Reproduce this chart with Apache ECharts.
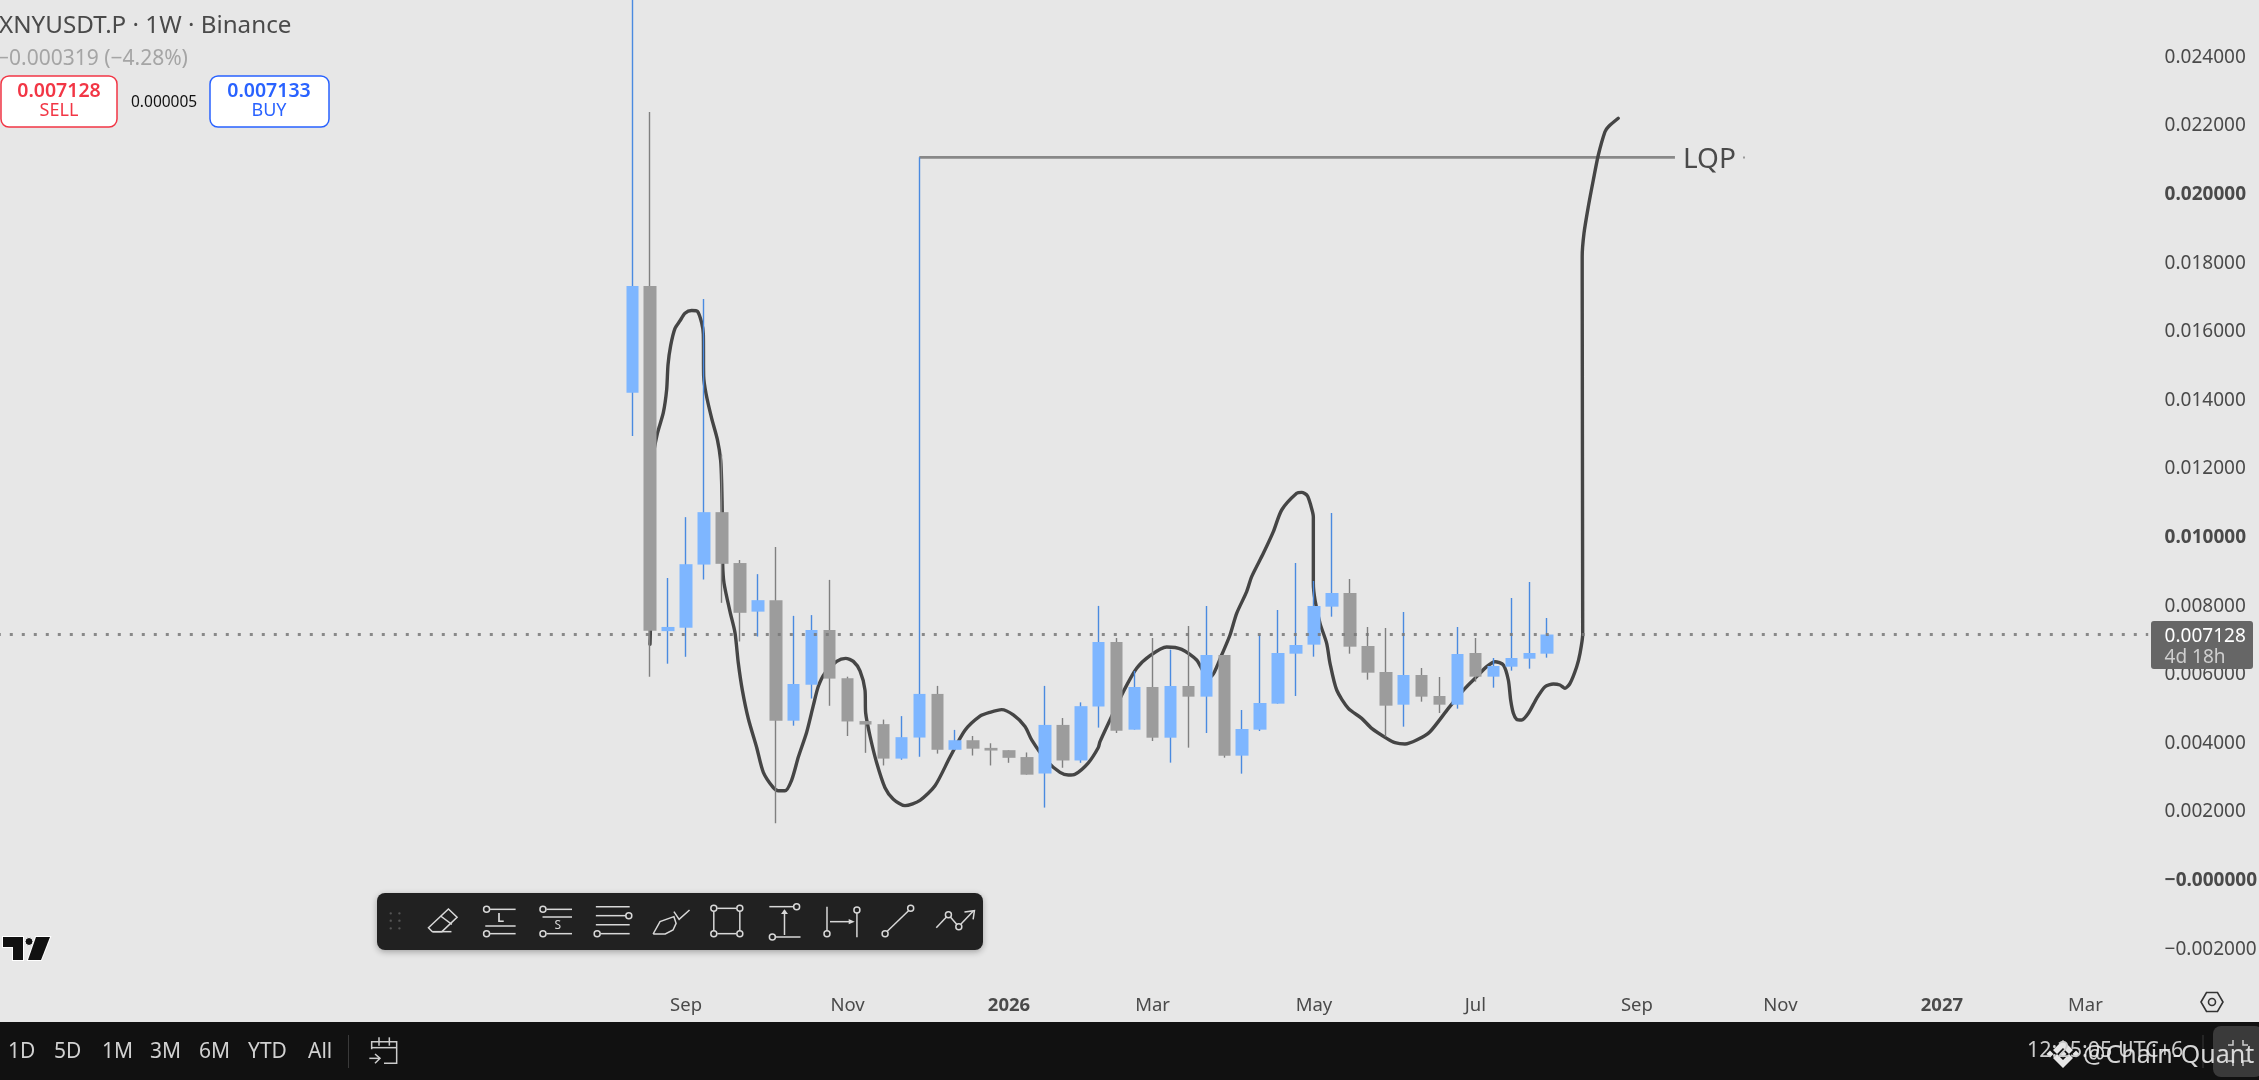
<!DOCTYPE html>
<html>
<head>
<meta charset="utf-8">
<title>XNYUSDT.P 1W</title>
<style>html,body{margin:0;padding:0;background:#e7e7e7;overflow:hidden}#c{width:2259px;height:1080px}</style>
<script src="https://cdn.jsdelivr.net/npm/echarts@6/dist/echarts.min.js"></script>
</head>
<body>
<div id="c"></div>
<script>
// ---- chart values ----
const firstWeek = '2025-08-11';
const opens  = [.014176,.017289,.007226,.007326,.009167,.010695,.009212,.007795,.008129,.004615,.005664,.007259,.005853,.004604,.004515,.003510,.004124,.005396,.003767,.004046,.003823,.003756,.003555,.003075,.004492,.003455,.005028,.006909,.004354,.005597,.004120,.005627,.005316,.006530,.003596,.004354,.005112,.006569,.006832,.007940,.008338,.006793,.006035,.005082,.005947,.005335,.005082,.006589,.005899,.006190,.006423,.006569];
const closes = [.017289,.007237,.007348,.009178,.010695,.009189,.007761,.008129,.004615,.005686,.007259,.005842,.004593,.004503,.003510,.004135,.005396,.003767,.004046,.003800,.003745,.003533,.003042,.004492,.003455,.005039,.006913,.004324,.005597,.004120,.005627,.005316,.006530,.003596,.004373,.005131,.006589,.006822,.007959,.008338,.006773,.006015,.005053,.005947,.005316,.005082,.006560,.005899,.006210,.006443,.006589,.007128];
const lows   = [.012916,.005898,.006277,.006478,.008732,.008051,.006924,.007069,.001625,.004470,.005262,.005050,.004169,.003678,.003310,.003477,.003566,.003655,.003767,.003600,.003310,.003388,.003042,.002082,.003243,.003388,.004414,.004256,.004354,.004023,.003392,.003829,.004256,.003537,.003071,.004315,.005112,.005335,.006482,.007648,.006569,.005811,.004150,.004441,.005170,.004840,.004966,.005753,.005578,.006074,.006132,.006453];
const highs  = [.026000,.022362,.008776,.010550,.016910,.012369,.009301,.008888,.009680,.007672,.007694,.008721,.005898,.004604,.004648,.004749,.021040,.005630,.004347,.004169,.003957,.003756,.003689,.005630,.004693,.005150,.007962,.007026,.006064,.007026,.006686,.007376,.007959,.006530,.004927,.007114,.007842,.009213,.008688,.010670,.008746,.007347,.007318,.007784,.006151,.005889,.007347,.007026,.006443,.008192,.008659,.007609];

// freehand drawing: position in weeks from the first candle, price
const drawWeeks  = [.988,1.007,1.174,1.397,1.731,1.917,1.992,2.14,2.382,2.66,2.939,3.311,3.627,3.868,3.961,3.98,4.11,4.426,4.742,4.927,4.983,5.02,5.039,5.113,5.448,5.726,5.912,6.135,6.47,6.934,7.306,7.863,8.142,8.513,8.885,9.257,9.721,10.093,10.372,10.743,11.394,11.895,12.323,12.694,12.973,13.01,13.252,13.623,14.088,14.552,15.202,16.039,16.875,17.711,18.547,19.383,19.941,20.591,21.241,21.892,22.263,23.1,23.843,24.307,24.679,25.422,25.979,26.072,26.629,27.373,28.116,28.859,29.788,30.624,31.46,32.111,32.39,32.854,33.319,33.69,34.248,34.526,35.177,35.734,36.199,37.035,37.314,37.629,37.815,37.964,37.964,38.057,38.336,38.707,38.893,39.265,39.915,40.658,41.216,42.052,42.516,43.073,43.724,44.467,45.489,46.418,47.069,47.626,48.091,48.555,48.833,48.963,49.113,49.298,49.577,49.949,50.413,50.878,51.342,51.714,51.992,52.271,52.643,52.829,52.978,52.95,52.95,53.05,53.29,53.57,53.85,54.22,54.41,54.96];
const drawPrices = [.006846,.00718,.012313,.012983,.013596,.014266,.014991,.015549,.016051,.016274,.016497,.016575,.016553,.016218,.015883,.014656,.014154,.013429,.012815,.012202,.011532,.010528,.009189,.008631,.007795,.00718,.006288,.005507,.004671,.003834,.003109,.002662,.002573,.002573,.002885,.003555,.00428,.005061,.005619,.006009,.006344,.006433,.006344,.006065,.005507,.004838,.004169,.003387,.002662,.002328,.002138,.002294,.002718,.003555,.004336,.004749,.004861,.004938,.004782,.004448,.004057,.003443,.003109,.003031,.003053,.003387,.003834,.004004,.004635,.005462,.006142,.006511,.006764,.006696,.006385,.00585,.005976,.00653,.007114,.007745,.008377,.008814,.009494,.010126,.010758,.011244,.011273,.011176,.010903,.010563,.00862,.008134,.007454,.006871,.006288,.00551,.004975,.004684,.004392,.004101,.003975,.003936,.004052,.004295,.004975,.005559,.005899,.00619,.006336,.006239,.005801,.005218,.00483,.004655,.004635,.00483,.005267,.005607,.005685,.005656,.005559,.005704,.00619,.006579,.007133,.017464,.018143,.018825,.0196,.020379,.021108,.021787,.021933,.022178];

const lastPrice = 0.007128;
const lqpWeeks = [16, 58.12];
const lqpPrice = 0.02104;
const lqpLabel = 'LQP';

const weeksBefore = 35, weeksTotal = 120;
const monthTicks = [[3,'Sep'],[12,'Nov'],[21,'2026',1],[29,'Mar'],[38,'May'],[47,'Jul'],[56,'Sep'],[64,'Nov'],[73,'2027',1],[81,'Mar']];
const boldPrices = [0, 0.01, 0.02];

// ---- building blocks ----
const FONT = '"Noto Sans"';
const tickByCat = {};
monthTicks.forEach(t => { tickByCat[t[0] + weeksBefore] = t; });
const categories = [];
for (let i = 0; i < weeksTotal; i++) {
  const d = new Date(Date.parse(firstWeek + 'T00:00:00Z') + (i - weeksBefore) * 7 * 864e5);
  categories.push(d.toISOString().slice(0, 10));
}
const wickData = opens.map((o, i) => [i + weeksBefore, o, closes[i], lows[i], highs[i]]);
const bodyData = opens.map((o, i) => [i + weeksBefore, o, closes[i], Math.min(o, closes[i]), Math.max(o, closes[i])]);
const drawData = drawWeeks.map((w, i) => [w, drawPrices[i]]);
const xMin = -weeksBefore - 0.5, xMax = weeksTotal - weeksBefore - 0.5;

// ---- chrome around the chart ----
const g = [];
const Z = 200;
const C = '#d8d8d8';
const txt = (text, x, y, size, fill, opt = {}) => g.push({type:'text', z:Z + 2, silent:true, style:{text, x, y:y + 1.5, fill,
  font:(opt.weight ? opt.weight + ' ' : '') + size + 'px ' + FONT, textAlign:opt.align || 'left', textVerticalAlign:'middle'}});
const rect = (x, y, w, h, r, fill, stroke, extra = {}) => g.push({type:'rect', z:Z, silent:true, shape:{x, y, width:w, height:h, r},
  style:Object.assign({fill, stroke:stroke || null, lineWidth:stroke ? 1.5 : 0}, extra)});
const ln = (x1, y1, x2, y2, stroke = C, lw = 1.5) => g.push({type:'line', z:Z + 1, silent:true, shape:{x1, y1, x2, y2}, style:{stroke, lineWidth:lw}});
const pl = (pts, stroke = C, lw = 1.5) => g.push({type:'polyline', z:Z + 1, silent:true, shape:{points:pts}, style:{stroke, lineWidth:lw, fill:null}});
const pg = (pts, fill, stroke, lw = 0) => g.push({type:'polygon', z:Z + 1, silent:true, shape:{points:pts}, style:{fill, stroke:stroke || null, lineWidth:lw}});
const ci = (cx, cy, r, stroke = C, fill = null, lw = 1.5) => g.push({type:'circle', z:Z + 1, silent:true, shape:{cx, cy, r}, style:{stroke, fill, lineWidth:lw}});

// header
txt('XNYUSDT.P · 1W · Binance', -1, 25, 24.2, '#4a4a4a');
txt('−0.000319 (−4.28%)', -3, 58, 21, '#a5a5a5');
rect(1, 76, 116, 51, 8, '#ffffff', '#f23645');
txt('0.007128', 59, 90, 19.5, '#f23645', {weight:600, align:'center'});
txt('SELL', 59, 109.5, 18, '#f23645', {align:'center'});
txt('0.000005', 131, 101, 15.5, '#111111');
rect(210, 76, 119, 51, 8, '#ffffff', '#2962ff');
txt('0.007133', 269, 90, 19.5, '#2962ff', {weight:600, align:'center'});
txt('BUY', 269, 109.5, 18, '#2962ff', {align:'center'});

// logo
pg([[3,937],[23,937],[23,960],[13,960],[13,947],[3,947]], '#111', '#fff', 2);
ci(29, 941.5, 4, '#fff', '#111', 1);
pg([[36,937],[50,937],[41,960],[28,960]], '#111', '#fff', 2);
pg([[3,937],[23,937],[23,960],[13,960],[13,947],[3,947]], '#111');
pg([[36,937],[50,937],[41,960],[28,960]], '#111');

// drawing toolbar
rect(377, 893, 606, 57, 8, '#212121', null, {shadowBlur:6, shadowColor:'rgba(0,0,0,0.3)', shadowOffsetY:2});
const X = p => 340 + p / 2.306, Y = p => 880 + p / 3;
const zp = a => a.map(q => [X(q[0]), Y(q[1])]);
const zl = (a, b, c, d) => ln(X(a), Y(b), X(c), Y(d));
const zc = (a, b, r = 3) => ci(X(a), Y(b), r);
[117, 137].forEach(a => [100, 122, 145].forEach(b => ci(X(a), Y(b), 1.2, '#555', '#555', 0)));
pl(zp([[213,155],[204,143],[250,87],[270,112],[235,155],[213,155]]));
zl(232,108,258,133); zl(213,155,257,155);
zc(338,88); zl(346,88,405,88); zl(335,138,405,138); zc(338,161); zl(346,161,405,161);
txt('L', X(370), Y(115) - 1.5, 13, C, {align:'center', weight:600});
zc(468,88); zl(476,88,535,88); zl(467,111,535,111); zc(468,161); zl(476,161,535,161);
txt('S', X(502), Y(137) - 1.5, 12, C, {align:'center'});
zl(590,80,668,80); zl(590,107,660,107); zc(666,107); zl(590,134,668,134); zc(593,161); zl(601,161,668,161);
pl(zp([[722,162],[738,125],[770,110],[775,130],[768,150],[750,162],[722,162]]));
pl(zp([[770,95],[782,118],[806,90]]));
[[862,85],[922,85],[862,161],[922,161]].forEach(p => zc(p[0], p[1]));
zl(870,85,914,85); zl(870,161,914,161); zl(862,94,862,152); zl(922,94,922,152);
zl(990,80,1045,80); zc(1053,80); zl(1025,165,1025,92); pg(zp([[1025,88],[1017,102],[1033,102]]), C); zc(997,171); zl(1005,171,1062,171);
zl(1123,80,1123,152); zc(1123,161); zl(1130,125,1178,125); pg(zp([[1187,125],[1173,117],[1173,133]]), C); zc(1192,90); zl(1192,98,1192,172);
zc(1257,161); zl(1262,154,1311,92); zc(1316,85);
zl(1375,143,1399,110); zc(1403,104); zl(1408,112,1423,134); zc(1427,140); zl(1432,132,1460,94);
pl(zp([[1440,96],[1463,92],[1460,118]]));

// settings hexagon
pg([[2201,1002],[2206.5,992.5],[2217.5,992.5],[2223,1002],[2217.5,1011.5],[2206.5,1011.5]], 'rgba(0,0,0,0)', '#333', 1.6);
ci(2212, 1002, 3.5, '#333', null, 1.6);

// price tag
rect(2151, 621, 102, 48, 3, '#666666');
txt('0.007128', 2164.6, 635, 19, '#ffffff');
txt('4d 18h', 2164.6, 656, 19, '#cfcfcf');

// tiny mark to the right of the label
rect(1743, 156.5, 2, 2, 0, '#9a9a9a');

// bottom bar
rect(0, 1022, 2259, 58, 0, '#111111');
[['1D',8],['5D',54],['1M',102],['3M',150],['6M',199],['YTD',248],['All',308]].forEach(t => txt(t[0], t[1], 1051, 21, '#d1d1d1'));
ln(348.5, 1035, 348.5, 1068, '#3a3a3a', 1);
const cal = (a) => a.map(q => [q[0] / 3, 930 + q[1] / 3]);
pl(cal([[1115,358],[1115,335],[1190,335],[1190,400],[1152,400]]), '#cccccc');
pl(cal([[1115,353],[1190,353]]), '#cccccc');
pl(cal([[1137,322],[1137,347]]), '#cccccc'); pl(cal([[1168,322],[1168,347]]), '#cccccc');
pl(cal([[1108,385],[1140,385]]), '#cccccc'); pl(cal([[1125,372],[1140,385],[1125,400]]), '#cccccc');
rect(2213, 1026, 50, 51, 8, '#3a3a3a');
ln(2203, 1035, 2203, 1068, '#3a3a3a', 1);
txt('12:25:05 UTC+6', 2027, 1049, 21.5, '#cccccc');
pl([[2228,1045],[2233,1045],[2233,1040]], '#cccccc'); pl([[2243,1040],[2243,1045],[2248,1045]], '#cccccc');
pl([[2228,1061],[2233,1061],[2233,1066]], '#cccccc'); pl([[2243,1066],[2243,1061],[2248,1061]], '#cccccc');
const W = '#e6e6e6';
pg([[2063,1040],[2073,1050],[2069,1054],[2063,1048],[2057,1054],[2053,1050]], W);
pg([[2063,1068],[2073,1058],[2069,1054],[2063,1060],[2057,1054],[2053,1058]], W);
pg([[2063,1050.5],[2066.5,1054],[2063,1057.5],[2059.5,1054]], W);
pg([[2050,1050.5],[2053.5,1054],[2050,1057.5],[2046.5,1054]], W);
pg([[2076,1050.5],[2079.5,1054],[2076,1057.5],[2072.5,1054]], W);
txt('@Chain-Quant', 2083, 1054, 25, 'rgba(235,235,235,0.9)');

// ---- the chart ----
const chart = echarts.init(document.getElementById('c'), null, {renderer:'canvas'});
chart.setOption({
  animation:false,
  backgroundColor:'#e7e7e7',
  textStyle:{fontFamily:FONT},
  grid:{left:-4.6, top:-12.8, width:weeksTotal * 17.94, height:1029, containLabel:false, outerBoundsMode:'none'},
  xAxis:[
    {type:'category', data:categories, boundaryGap:true, position:'bottom',
     axisLine:{show:false}, axisTick:{show:false}, splitLine:{show:false},
     axisLabel:{show:true, inside:true, interval:0, margin:1, hideOverlap:false, color:'#4a4a4a', fontSize:18.5, fontFamily:FONT,
       formatter:(v, i) => { const t = tickByCat[i]; return t ? (t[2] ? '{b|' + t[1] + '}' : t[1]) : ''; },
       rich:{b:{fontWeight:700, fontSize:18.5, color:'#4a4a4a', fontFamily:FONT}}}},
    {type:'value', show:false, min:xMin, max:xMax, splitLine:{show:false}}
  ],
  yAxis:{type:'value', position:'right', min:-0.004, max:0.026, interval:0.002,
    axisLine:{show:false}, axisTick:{show:false}, splitLine:{show:false},
    axisLabel:{margin:16.4, color:'#4a4a4a', fontSize:19, fontFamily:FONT, align:'left', padding:[3,0,0,0],
      formatter:v => {
        if (v < -0.003 || v > 0.025) return '';
        const zero = Math.abs(v) < 1e-9;
        const s = (zero || v < 0 ? '−' : '') + Math.abs(v).toFixed(6);
        return boldPrices.some(b => Math.abs(b - v) < 1e-9) ? '{b|' + s + '}' : s;
      },
      rich:{b:{fontWeight:700, fontSize:19, color:'#4a4a4a', fontFamily:FONT}}}},
  series:[
    {name:'Drawing', type:'line', xAxisIndex:1, yAxisIndex:0, z:2, data:drawData, showSymbol:false, symbol:'none', smooth:0.25, silent:true,
     lineStyle:{color:'#454545', width:3.4, cap:'round', join:'round'}},
    {name:'LQP', type:'line', xAxisIndex:1, yAxisIndex:0, z:1, showSymbol:true, symbol:'circle', symbolSize:0, silent:true,
     data:[[lqpWeeks[0], lqpPrice], {value:[lqpWeeks[1], lqpPrice],
       label:{show:true, position:'right', distance:8, offset:[0,3], formatter:lqpLabel, color:'#4a4a4a', fontSize:28, fontFamily:FONT}}],
     lineStyle:{color:'#888888', width:2.6}},
    {name:'XNYUSDT.P wicks', type:'candlestick', xAxisIndex:0, yAxisIndex:0, z:3, barWidth:1, silent:true,
     encode:{x:0, y:[1,2,3,4]}, data:wickData,
     itemStyle:{color:'#4a8ae0', color0:'#808080', borderColor:'#4a8ae0', borderColor0:'#808080', borderWidth:1.4}},
    {name:'XNYUSDT.P', type:'candlestick', xAxisIndex:0, yAxisIndex:0, z:4, barWidth:13, silent:true,
     encode:{x:0, y:[1,2,3,4]}, data:bodyData,
     itemStyle:{color:'#7eb6ff', color0:'#9c9c9c', borderColor:'#7eb6ff', borderColor0:'#9c9c9c', borderWidth:0}},
    {name:'Last price', type:'line', xAxisIndex:1, yAxisIndex:0, z:5, showSymbol:false, symbol:'none', silent:true,
     data:[[xMin, lastPrice], [xMax, lastPrice]],
     lineStyle:{color:'rgba(120,120,120,0.85)', width:3, type:[3,9], dashOffset:9.6}}
  ],
  graphic:{elements:g}
});
</script>
</body>
</html>
